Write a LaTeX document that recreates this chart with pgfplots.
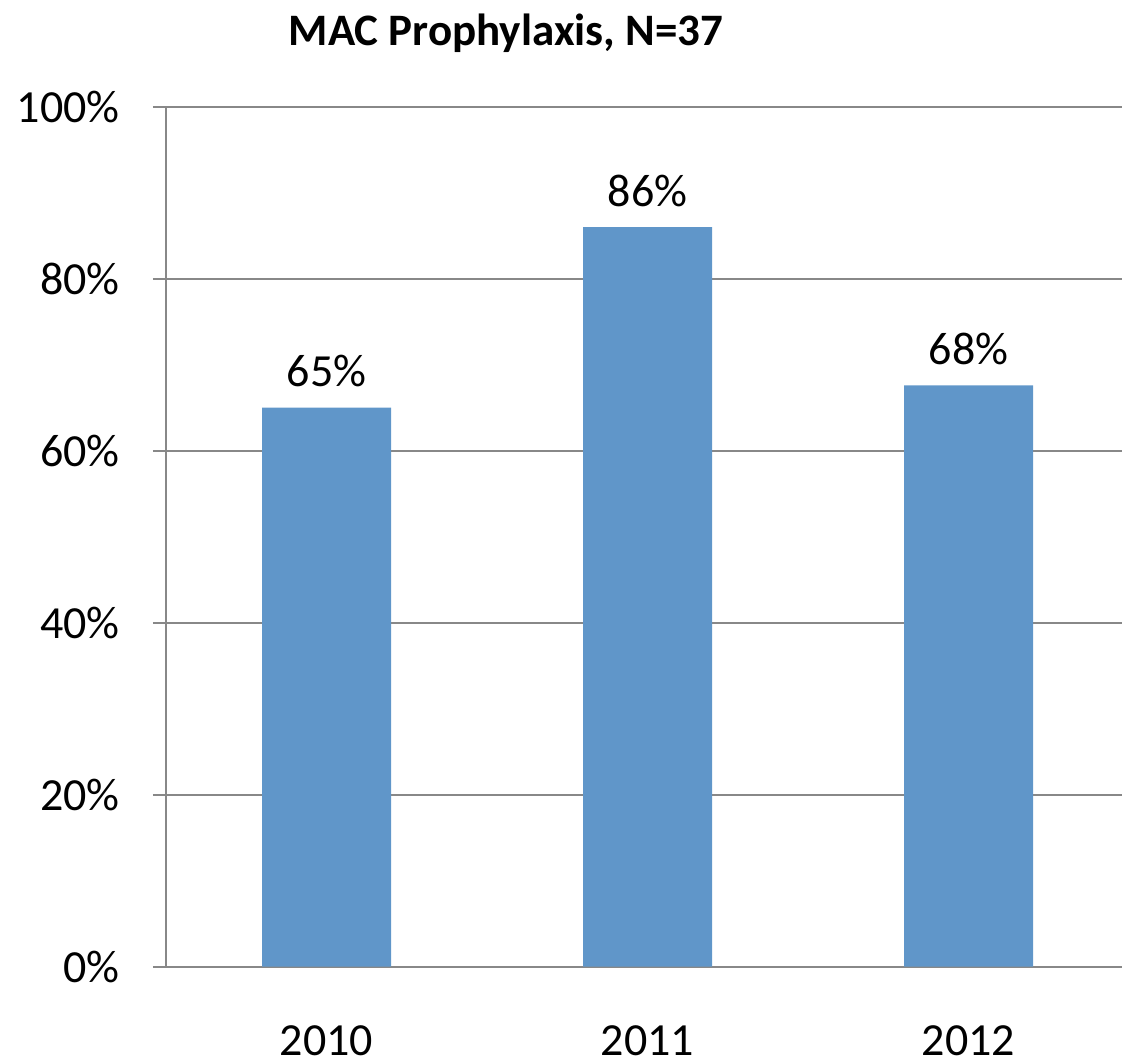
\documentclass[border=0pt]{standalone}
\usepackage{pgfplots}
\pgfplotsset{compat=1.18}
\usepackage{fontspec}
\setmainfont{Carlito}

\definecolor{barblue}{HTML}{6096C9}
\definecolor{gridgray}{HTML}{888888}

\begin{document}
\begin{tikzpicture}
\useasboundingbox (-83pt,-47.65pt) rectangle (478pt,483.35pt);
\begin{axis}[
    at={(0,0)}, anchor=south west,
    scale only axis,
    width=481.5pt, height=430pt,
    xmin=-0.5, xmax=2.5,
    ymin=0, ymax=100,
    axis lines*=left,
    axis line style={gridgray, line width=1pt},
    xtick={0,1,2},
    xticklabels={2010,2011,2012},
    major x tick style={draw=none},
    extra x ticks={-0.5,0.5,1.5},
    extra x tick labels={},
    extra x tick style={tick align=outside, major tick length=7.5pt,
        major tick style={gridgray, line width=1pt}},
    ytick={0,20,40,60,80,100},
    yticklabels={0\%,20\%,40\%,60\%,80\%,100\%},
    tick align=outside,
    major tick length=6.5pt,
    major tick style={gridgray, line width=1pt},
    ymajorgrids=true,
    grid style={gridgray, line width=1pt},
    tick label style={font=\fontsize{23}{27}\selectfont, inner sep=0pt},
    yticklabel style={anchor=east, xshift=-16.5pt},
    xticklabel style={anchor=base, yshift=-38pt},
    title={MAC Prophylaxis, N=37},
    title style={font=\fontsize{22.5}{27}\selectfont\bfseries,
        at={(0.353,1.057)}, anchor=base, inner sep=0pt},
    ybar,
    bar width=64.5pt,
    nodes near coords={\pgfmathprintnumber[fixed,precision=0,assume math mode=true]{\pgfplotspointmeta}\%},
    every node near coord/.append style={font=\fontsize{23}{27}\selectfont,
        anchor=base, yshift=10.5pt, inner sep=0pt, black},
]
\addplot[fill=barblue, draw=none] coordinates {
    (0,65.0)
    (1,86.0)
    (2,67.6)
};
\end{axis}
\end{tikzpicture}
\end{document}
